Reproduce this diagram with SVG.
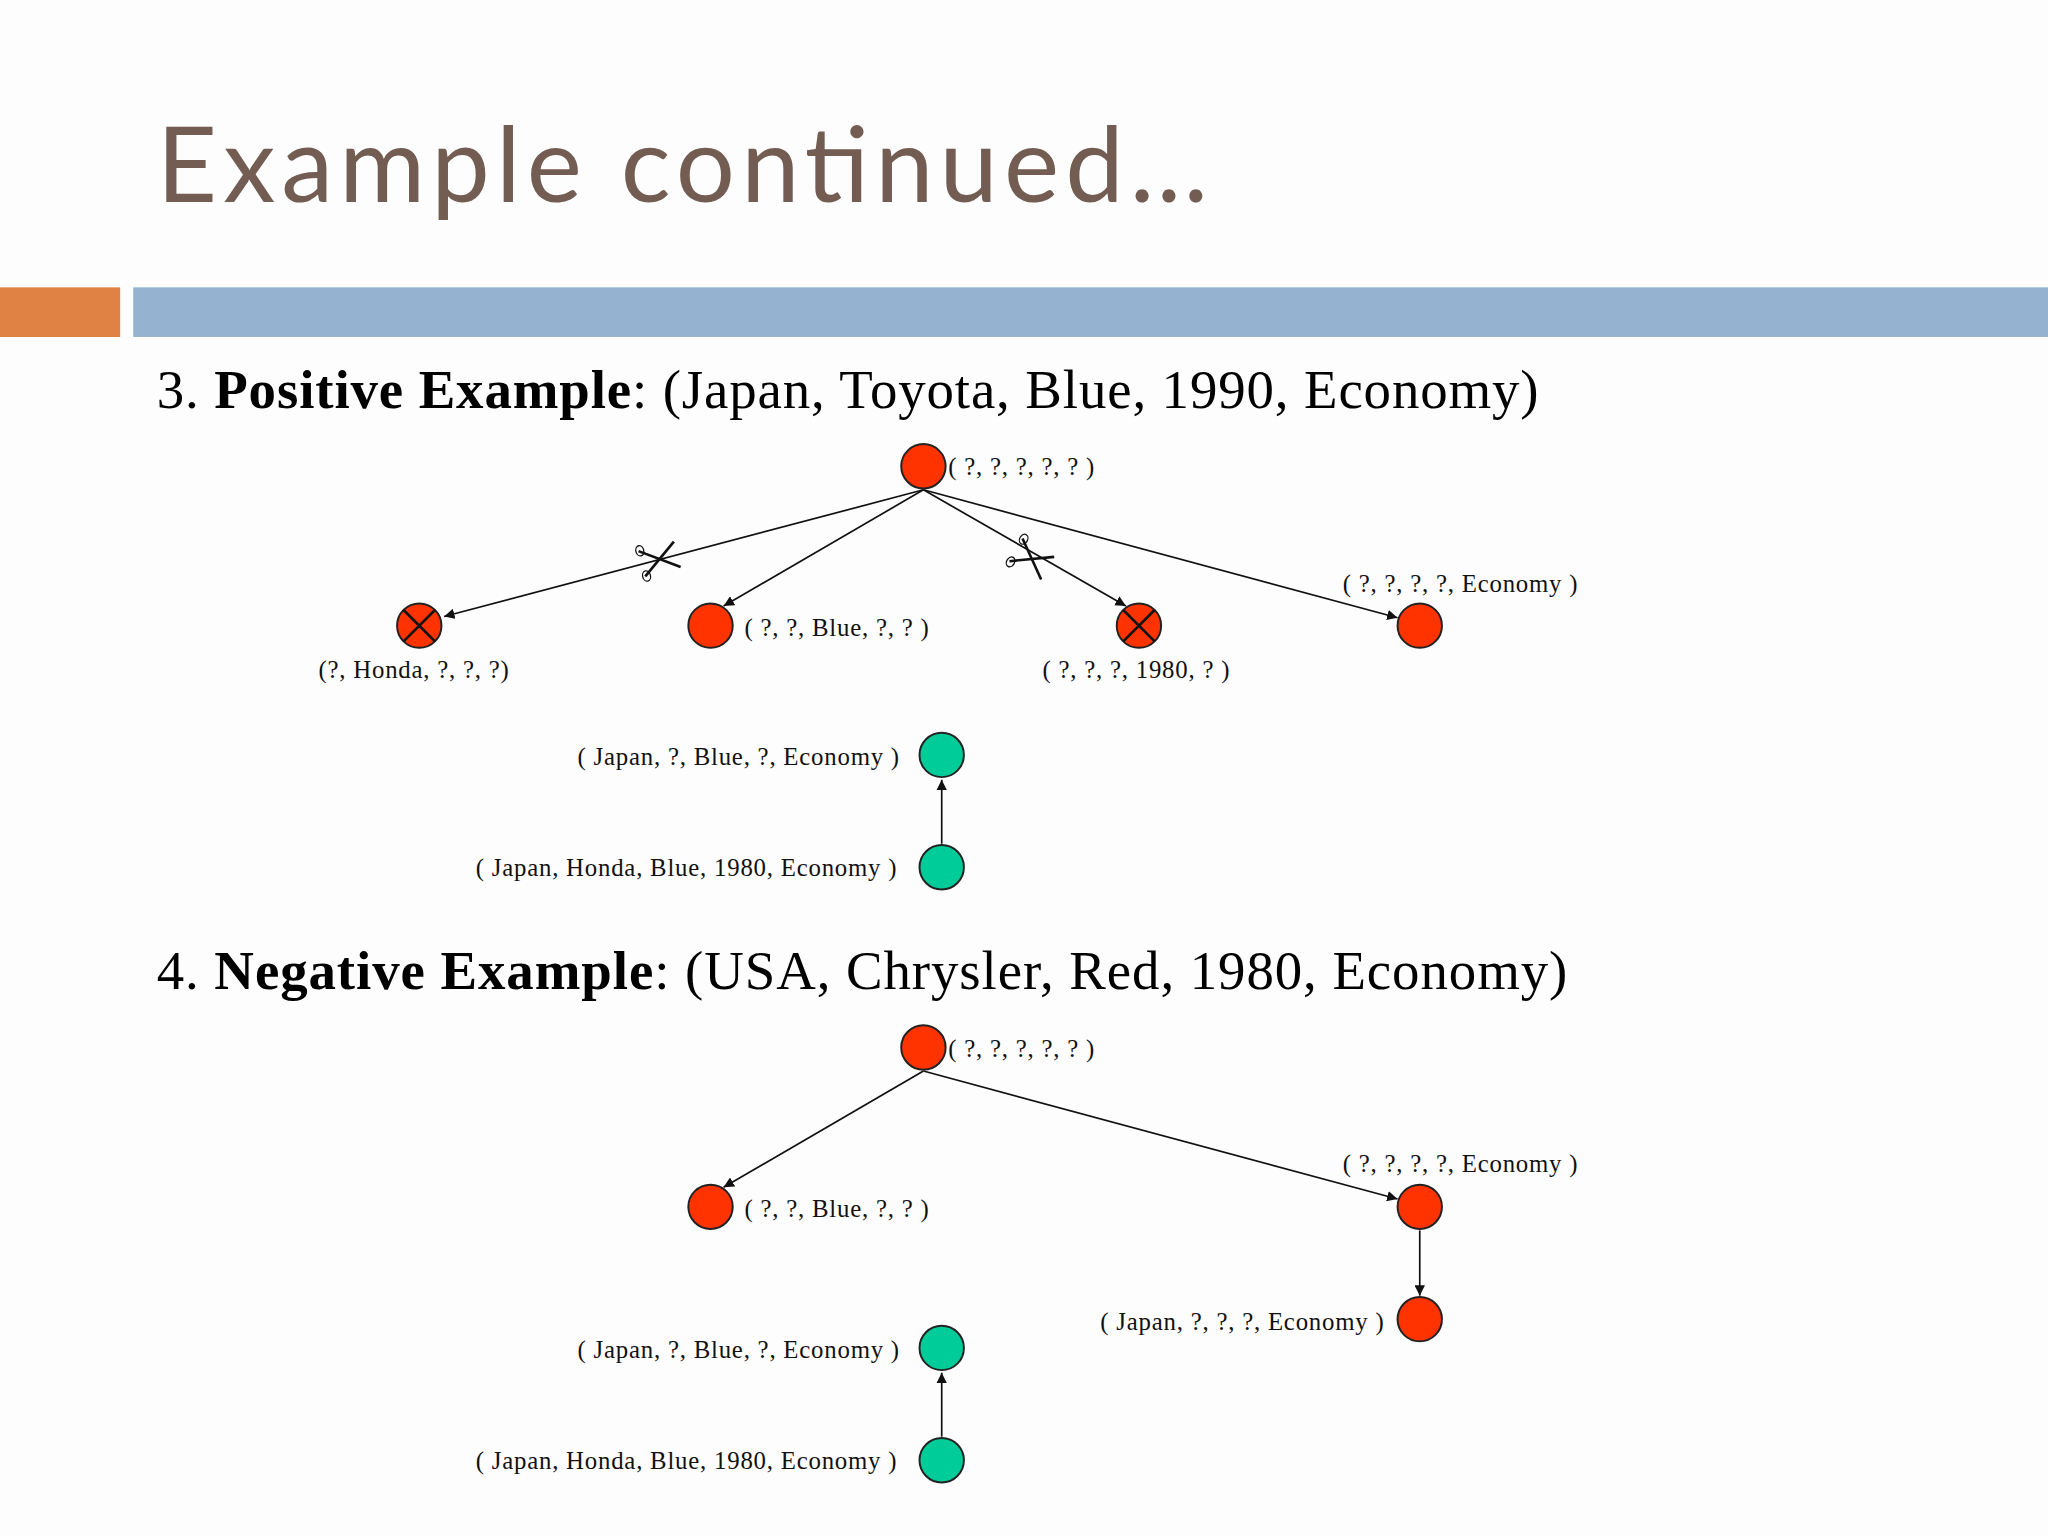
<svg xmlns="http://www.w3.org/2000/svg" width="2048" height="1536" viewBox="0 0 2048 1536">
<defs>
<style>
.t{font-family:"Liberation Serif",serif;font-size:19px;fill:#111;letter-spacing:0.6px}
.h{font-family:"Liberation Serif",serif;font-size:42px;fill:#000}
.r{fill:#ff3300;stroke:#222;stroke-width:1.5}
.g{fill:#00cc99;stroke:#222;stroke-width:1.5}
.e{stroke:#111;stroke-width:1.3;fill:none;marker-end:url(#a)}
.x{stroke:#111;stroke-width:2}
</style>
<marker id="a" viewBox="0 0 10 10" refX="10" refY="5" markerWidth="8" markerHeight="8" orient="auto" markerUnits="userSpaceOnUse"><path d="M0,0L10,5L0,10z" fill="#111"/></marker>
<g id="sc"><line class="x" x1="-14" y1="-10" x2="14" y2="10"/><line class="x" x1="-14" y1="10" x2="14" y2="-10"/><ellipse cx="-13" cy="-10" rx="3" ry="4" fill="none" stroke="#111"/><ellipse cx="-13" cy="10" rx="3" ry="4" fill="none" stroke="#111"/></g>
</defs>
<rect width="2048" height="1536" fill="#fdfdfd"/>
<g transform="scale(1.30612)">
<text x="120" y="155" font-family="Lato,'Open Sans',sans-serif" font-size="80" fill="#735c52" textLength="805" lengthAdjust="spacing">Example continued…</text>
<rect x="0" y="220" width="92" height="38" fill="#df8244"/>
<rect x="102" y="220" width="1466" height="38" fill="#95b3d1"/>
<text class="h" x="120" y="312" textLength="1058" lengthAdjust="spacing">3. <tspan font-weight="bold">Positive Example</tspan>: (Japan, Toyota, Blue, 1990, Economy)</text>
<text class="h" x="120" y="757" textLength="1080" lengthAdjust="spacing">4. <tspan font-weight="bold">Negative Example</tspan>: (USA, Chrysler, Red, 1980, Economy)</text>
<g id="connectors">
<line class="e" x1="707" y1="375" x2="340" y2="472"/>
<line class="e" x1="707" y1="375" x2="554" y2="464"/>
<line class="e" x1="707" y1="375" x2="862" y2="464"/>
<line class="e" x1="707" y1="375" x2="1070" y2="473"/>
<line class="e" x1="721" y1="646" x2="721" y2="597"/>
<line class="e" x1="707" y1="820" x2="554" y2="909"/>
<line class="e" x1="707" y1="820" x2="1070" y2="918"/>
<line class="e" x1="1087" y1="942" x2="1087" y2="992"/>
<line class="e" x1="721" y1="1100" x2="721" y2="1051"/>
<use href="#sc" transform="translate(505,428) rotate(-15)"/>
<use href="#sc" transform="translate(790,428) rotate(30)"/>
</g>
<g id="n1"><circle class="r" cx="707" cy="357" r="17"/><text class="t" x="726" y="364">( ?, ?, ?, ?, ? )</text></g>
<g id="n2"><circle class="r" cx="321" cy="479" r="17"/><path class="x" d="M309,467L333,491M333,467L309,491"/><text class="t" x="317" y="519" text-anchor="middle">(?, Honda, ?, ?, ?)</text></g>
<g id="n3"><circle class="r" cx="544" cy="479" r="17"/><text class="t" x="570" y="487">( ?, ?, Blue, ?, ? )</text></g>
<g id="n4"><circle class="r" cx="872" cy="479" r="17"/><path class="x" d="M860,467L884,491M884,467L860,491"/><text class="t" x="870" y="519" text-anchor="middle">( ?, ?, ?, 1980, ? )</text></g>
<g id="n5"><circle class="r" cx="1087" cy="479" r="17"/><text class="t" x="1028" y="453">( ?, ?, ?, ?, Economy )</text></g>
<g id="n6"><circle class="g" cx="721" cy="578" r="17"/><text class="t" x="689" y="586" text-anchor="end">( Japan, ?, Blue, ?, Economy )</text></g>
<g id="n7"><circle class="g" cx="721" cy="664" r="17"/><text class="t" x="687" y="671" text-anchor="end">( Japan, Honda, Blue, 1980, Economy )</text></g>
<g id="m1"><circle class="r" cx="707" cy="802" r="17"/><text class="t" x="726" y="809">( ?, ?, ?, ?, ? )</text></g>
<g id="m2"><circle class="r" cx="544" cy="924" r="17"/><text class="t" x="570" y="932">( ?, ?, Blue, ?, ? )</text></g>
<g id="m3"><circle class="r" cx="1087" cy="924" r="17"/><text class="t" x="1028" y="897">( ?, ?, ?, ?, Economy )</text></g>
<g id="m4"><circle class="r" cx="1087" cy="1010" r="17"/><text class="t" x="1060" y="1018" text-anchor="end">( Japan, ?, ?, ?, Economy )</text></g>
<g id="m5"><circle class="g" cx="721" cy="1032" r="17"/><text class="t" x="689" y="1040" text-anchor="end">( Japan, ?, Blue, ?, Economy )</text></g>
<g id="m6"><circle class="g" cx="721" cy="1118" r="17"/><text class="t" x="687" y="1125" text-anchor="end">( Japan, Honda, Blue, 1980, Economy )</text></g>
</g>
</svg>
